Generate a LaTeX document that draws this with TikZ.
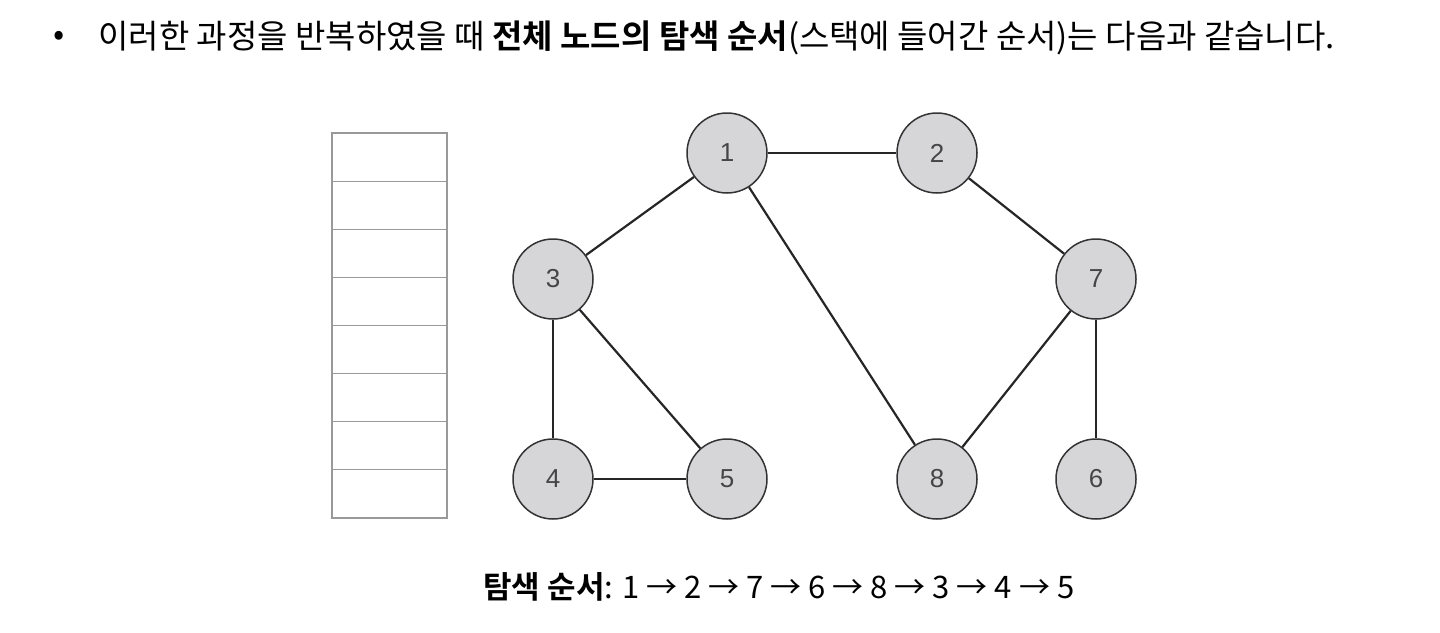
\documentclass[tikz,border=0pt]{standalone}
\usepackage{fontspec}
\setmainfont{Noto Sans CJK KR}[BoldFont={Noto Sans CJK KR Bold}]
\newfontfamily\numfont{Liberation Sans}
\definecolor{NodeClr}{rgb}{0.84,0.84,0.85}
\definecolor{StackClr}{rgb}{0.6,0.6,0.6}
\definecolor{NumClr}{rgb}{0.27,0.27,0.27}

\begin{document}
\begin{tikzpicture}[x=0.5pt,y=-0.5pt,
  vertex/.style={circle,draw=black!80,line width=0.75pt,fill=NodeClr,
    minimum size=40pt,inner sep=0pt,text=NumClr,
    font=\numfont\fontsize{13}{13}\selectfont},
  edge/.style={line width=1.1pt,black!85},
  txt/.style={anchor=west,inner sep=0pt}]
\useasboundingbox (0,0) rectangle (1440,632);

% title line
\node[txt,font=\fontsize{16.5}{16.5}\selectfont] (bullet) at (53,38) {•};
\node[txt,font=\fontsize{16.5}{16.5}\selectfont] (title) at (98,38) {이러한 과정을 반복하였을 때 \textbf{전체 노드의 탐색 순서}(스택에 들어간 순서)는 다음과 같습니다.};

% stack
\foreach \i in {0,...,7}
  \draw[StackClr,line width=0.6pt] (332,{133+\i*48.125}) rectangle +(115,48.125);

% graph
\node[vertex] (n1) at (727,153) {1};
\node[vertex] (n2) at (937,153) {2};
\node[vertex] (n3) at (553,279) {3};
\node[vertex] (n7) at (1096,279) {7};
\node[vertex] (n4) at (553,479) {4};
\node[vertex] (n5) at (727,479) {5};
\node[vertex] (n8) at (937,479) {8};
\node[vertex] (n6) at (1096,479) {6};

\foreach \a/\b in {n1/n2,n1/n3,n1/n8,n2/n7,n3/n4,n3/n5,n4/n5,n7/n8,n7/n6}
  \draw[edge] (\a) -- (\b);

% order
\node[txt,font=\fontsize{15.5}{15.5}\selectfont] (order) at (483,587) {\textbf{탐색 순서}: 1 → 2 → 7 → 6 → 8 → 3 → 4 → 5};
\end{tikzpicture}
\end{document}
